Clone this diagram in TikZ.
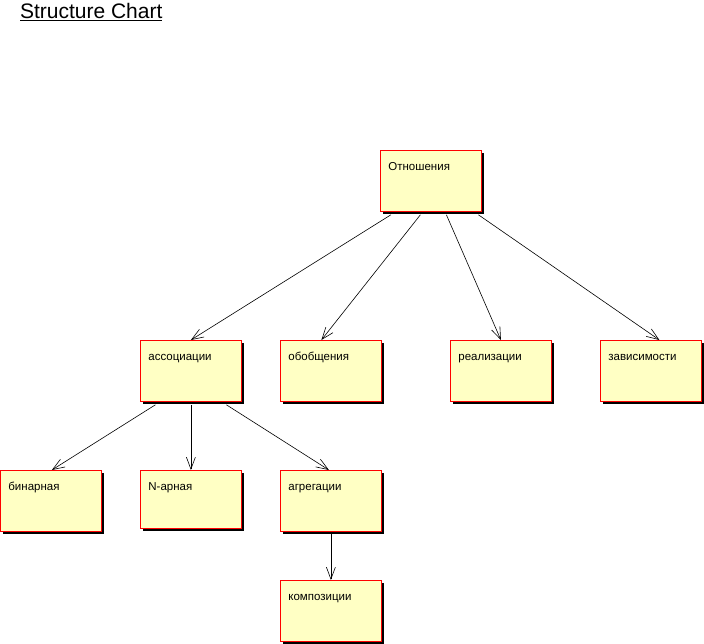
\documentclass[tikz,border=0pt]{standalone}
\usepackage{fontspec}
\setmainfont{Liberation Sans}
\usepackage{tikz}
\usetikzlibrary{arrows.meta,shadows}

\begin{document}
\begin{tikzpicture}[x=1pt,y=-1pt,
  unit/.style={draw=red, line width=0.8pt, fill={rgb,255:red,255;green,255;blue,196},
    drop shadow={opacity=1, fill=black, shadow xshift=3pt, shadow yshift=-3pt},
    anchor=north west, inner xsep=8pt, inner ysep=0pt, text width=85pt,
    text height=20pt, text depth=41pt, align=left, font=\fontsize{11.5}{13}\selectfont},
  call/.style={draw=black, line width=0.6pt, -{Straight Barb[length=12pt,width=9pt]}}]
\useasboundingbox (0,0) rectangle (704,644);
\node[anchor=base west, font=\fontsize{21}{24}\selectfont] (title) at (16.5,18.5) {\underline{Structure Chart}};
\node[unit] (rel) at (380,150) {Отношения};
\node[unit] (assoc) at (140,340) {ассоциации};
\node[unit] (gen) at (280,340) {обобщения};
\node[unit] (real) at (450,340) {реализации};
\node[unit] (dep) at (600,340) {зависимости};
\node[unit] (bin) at (0,470) {бинарная};
\node[unit, text depth=38pt] (nary) at (140,470) {N-арная};
\node[unit] (aggr) at (280,470) {агрегации};
\node[unit] (comp) at (280,580) {композиции};
\draw[call] ([xshift=-40pt,yshift=-3pt]rel.south) -- (assoc.north);
\draw[call] ([xshift=-10.5pt,yshift=-3pt]rel.south) -- ([xshift=-9.5pt]gen.north);
\draw[call] ([xshift=15.5pt,yshift=-3pt]rel.south) -- (real.north);
\draw[call] ([xshift=47.5pt,yshift=-3pt]rel.south) -- ([xshift=8.5pt]dep.north);
\draw[call] ([xshift=-35.5pt,yshift=-3pt]assoc.south) -- ([xshift=1pt]bin.north);
\draw[call] ([yshift=-3pt]assoc.south) -- (nary.north);
\draw[call] ([xshift=35.5pt,yshift=-3pt]assoc.south) -- ([xshift=-2pt]aggr.north);
\draw[call] ([yshift=-2pt]aggr.south) -- (comp.north);
\end{tikzpicture}
\end{document}
